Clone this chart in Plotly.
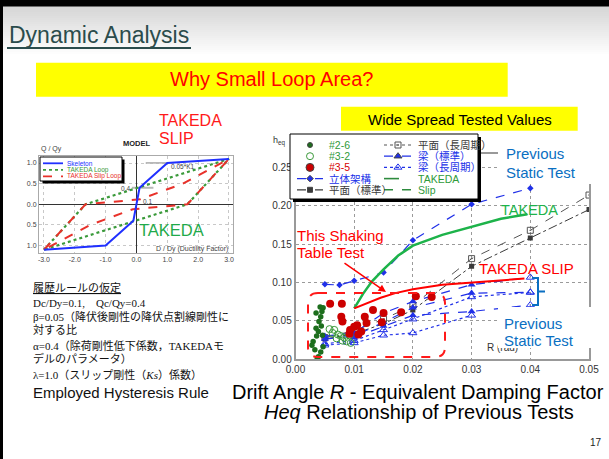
import plotly.graph_objects as go

W, H = 609, 459
SANS = "Liberation Sans, Arial, sans-serif"
JP = "Liberation Serif, Noto Sans CJK JP, serif"

# ---------------- hysteresis rule (left panel) ----------------
skeleton_d = [-3.0, -1.0, -0.1, 0.1, 1.0, 3.0]
skeleton_q = [-1.1, -1.0, -0.4, 0.4, 1.0, 1.1]
takeda_loop_d = [-3.0, -1.65, 3.0, 1.65, -3.0]
takeda_loop_q = [-1.1, 0.0, 1.1, 0.0, -1.1]
slip_loop_d = [-3.0, -1.65, 0.12, 1.5, 3.0, 1.65, -0.12, -1.5, -3.0]
slip_loop_q = [-1.1, 0.0, 0.12, 0.5, 1.1, 0.0, -0.12, -0.5, -1.1]
model_xticks = [-3, -2, -1, 0, 1, 2, 3]
model_xlabels = ["-3.0", "-2.0", "-1.0", "0.0", "1.0", "2.0", "3.0"]
model_yticks = [-1.0, -0.5, 0.0, 0.5, 1.0]
model_ylabels = ["1.0", "0.5", "0.0", "0.5", "1.0"]

# ---------------- drift angle R vs. heq (right panel) ----------------
r_2_6 = [0.0042, 0.0047, 0.0035, 0.0045, 0.0043, 0.0040, 0.0044, 0.0035, 0.0039,
         0.0036, 0.0030, 0.0028, 0.0033, 0.0043, 0.0047, 0.0039, 0.0037, 0.0046]
h_2_6 = [0.068, 0.067, 0.060, 0.062, 0.055, 0.049, 0.043, 0.040, 0.036,
         0.030, 0.023, 0.018, 0.012, 0.009, 0.016, 0.003, 0.001, 0.031]
r_3_2 = [0.0058, 0.0066, 0.0072, 0.0077, 0.0083, 0.0087, 0.0092, 0.0070, 0.0080, 0.0094, 0.0063]
h_3_2 = [0.039, 0.038, 0.032, 0.030, 0.028, 0.023, 0.031, 0.027, 0.024, 0.021, 0.034]
r_3_5 = [0.0059, 0.0079, 0.0078, 0.0080, 0.0093, 0.0100, 0.0105, 0.0107, 0.0118,
         0.0121, 0.0132, 0.0147, 0.0150, 0.0180, 0.0205, 0.0232, 0.0092, 0.0112]
h_3_5 = [0.072, 0.072, 0.055, 0.049, 0.038, 0.042, 0.044, 0.032, 0.055,
         0.047, 0.064, 0.048, 0.060, 0.061, 0.082, 0.081, 0.033, 0.036]

frame3d_r = [0.005, 0.0075, 0.010, 0.015, 0.020, 0.030, 0.040]
frame3d_h = [0.0975, 0.0965, 0.102, 0.113, 0.155, 0.202, 0.223]
plane_std_r = [0.005, 0.010, 0.015, 0.020, 0.030, 0.040, 0.050]
plane_std_h = [0.026, 0.033, 0.046, 0.064, 0.121, 0.158, 0.195]
plane_long_r = [0.005, 0.010, 0.015, 0.020, 0.030, 0.040, 0.050]
plane_long_h = [0.028, 0.037, 0.052, 0.070, 0.131, 0.168, 0.214]
beam_std_a_r = [0.005, 0.010, 0.015, 0.020, 0.030, 0.040]
beam_std_a_h = [0.030, 0.034, 0.060, 0.075, 0.097, 0.1065]
beam_std_b_r = [0.005, 0.010, 0.015, 0.020, 0.030, 0.040]
beam_std_b_h = [0.026, 0.030, 0.048, 0.067, 0.086, 0.087]
beam_std_c_r = [0.010, 0.015, 0.020, 0.030, 0.040]
beam_std_c_h = [0.028, 0.043, 0.057, 0.062, 0.0705]
beam_long_a_r = [0.005, 0.010, 0.015, 0.020, 0.030, 0.040]
beam_long_a_h = [0.020, 0.024, 0.038, 0.052, 0.081, 0.087]
beam_long_b_r = [0.005, 0.010, 0.015, 0.020, 0.030]
beam_long_b_h = [0.018, 0.021, 0.031, 0.034, 0.057]

takeda_r = [0.010, 0.0115, 0.013, 0.015, 0.0175, 0.020, 0.025, 0.030, 0.035, 0.0395]
takeda_h = [0.066, 0.085, 0.101, 0.117, 0.135, 0.148, 0.162, 0.172, 0.183, 0.189]
slip_r = [0.010, 0.012, 0.0145, 0.017, 0.020, 0.025, 0.030, 0.035, 0.039]
slip_h = [0.066, 0.072, 0.080, 0.086, 0.091, 0.097, 0.100, 0.103, 0.105]

r_ticks = [0.00, 0.01, 0.02, 0.03, 0.04, 0.05]
r_labels = ["0.00", "0.01", "0.02", "0.03", "0.04", "0.05"]
h_ticks = [0.00, 0.05, 0.10, 0.15, 0.20, 0.25]
h_labels = ["0.00", "0.05", "0.10", "0.15", "0.20", "0.25"]

# colours
BLUE = "#2030e8"
GRAY = "#3a3a3a"
DKGREEN = "#1d6e1d"
GREEN = "#2f9a3a"
RED = "#d80000"
STATIC_BLUE = "#0a6fc2"

fig = go.Figure()

# ---- left panel traces ----
fig.add_trace(go.Scatter(x=takeda_loop_d, y=takeda_loop_q, mode="lines",
                         line=dict(color="#3a9a3a", width=2.2, dash="dot"), xaxis="x", yaxis="y"))
fig.add_trace(go.Scatter(x=slip_loop_d, y=slip_loop_q, mode="lines",
                         line=dict(color="#e8312a", width=2, dash="dash"), xaxis="x", yaxis="y"))
fig.add_trace(go.Scatter(x=skeleton_d, y=skeleton_q, mode="lines",
                         line=dict(color="#2030ff", width=2), xaxis="x", yaxis="y"))


# ---- right panel traces ----
def xy2(x, y, **kw):
    fig.add_trace(go.Scatter(x=x, y=y, xaxis="x2", yaxis="y2", **kw))


xy2(plane_long_r, plane_long_h, mode="lines+markers",
    line=dict(color="#555", width=1, dash="dash"),
    marker=dict(symbol="square-open-dot", size=6, color="#555"))
xy2(plane_std_r, plane_std_h, mode="lines+markers",
    line=dict(color=GRAY, width=1, dash="dashdot"),
    marker=dict(symbol="square", size=5, color=GRAY))

for rr, hh in [(beam_long_a_r, beam_long_a_h), (beam_long_b_r, beam_long_b_h)]:
    xy2(rr, hh, mode="lines+markers", line=dict(color=BLUE, width=1.2, dash="dot"),
        marker=dict(symbol="triangle-up-open", size=7, color=BLUE))
for rr, hh in [(beam_std_a_r, beam_std_a_h), (beam_std_b_r, beam_std_b_h), (beam_std_c_r, beam_std_c_h)]:
    syms = ["triangle-up"] * (len(rr) - 1) + ["triangle-up-open"]
    xy2(rr, hh, mode="lines+markers", line=dict(color=BLUE, width=1.2, dash="dash"),
        marker=dict(symbol=syms, size=7, color=BLUE))
xy2(frame3d_r, frame3d_h, mode="lines+markers", line=dict(color=BLUE, width=1.2, dash="dash"),
    marker=dict(symbol="diamond", size=5, color=BLUE))

xy2(r_2_6, h_2_6, mode="markers", marker=dict(symbol="circle", size=5.5, color=DKGREEN))
xy2(r_3_2, h_3_2, mode="markers",
    marker=dict(symbol="circle-open", size=7, color="#3c9a3c", line=dict(width=1)))
xy2(r_3_5, h_3_5, mode="markers", marker=dict(symbol="circle", size=8, color="#cc0000"))

xy2(takeda_r, takeda_h, mode="lines", line=dict(color="#1db34a", width=2.5))
xy2(slip_r, slip_h, mode="lines", line=dict(color="#ff0000", width=2))


# ---- overlay in pixel units (x3/y3): page furniture, keys and boxes ----
def ov(x, y, **kw):
    fig.add_trace(go.Scatter(x=x, y=y, xaxis="x3", yaxis="y3", hoverinfo="skip", **kw))


def ov_box(x0, y0, x1, y1, fill, edge=None):
    ov([x0, x1, x1, x0, x0], [y0, y0, y1, y1, y0], mode="lines", fill="toself",
       fillcolor=fill, line=dict(color=edge or fill, width=1 if edge else 0))


# header band with a soft gray fade and yellow title strips
n_bands = 25
for i in range(n_bands):
    t = i / (n_bands - 1)
    c = int(214 + (255 - 214) * t)
    ov_box(0, 6 + 2 * i, W, 8.2 + 2 * i, f"rgb({c},{c},{c})")
ov_box(36, 62.7, 507.7, 96.7, "#ffff00")
ov_box(341, 106.7, 577.7, 130.7, "#ffff00")

annotations = []


def text(x, y, s, size, color="#000", xanchor="left", yanchor="middle", family=SANS, **kw):
    annotations.append(dict(x=x, y=y, xref="x3", yref="y3", text=s, showarrow=False,
                            xanchor=xanchor, yanchor=yanchor,
                            font=dict(family=family, size=size, color=color), **kw))


# key of the hysteresis panel
ov_box(42.5, 159.5, 124.5, 183.5, "#000")
ov_box(40, 157, 122, 181, "#fff", "#000")
model_key = [("Skeleton", "#2030ff", "solid"),
             ("TAKEDA Loop", "#3a9a3a", "dot"),
             ("TAKEDA Slip Loop", "#e8312a", "dash")]
for i, (name, col, dash) in enumerate(model_key):
    yk = 163.3 + 6.5 * i
    ov([43, 63], [yk, yk], mode="lines", line=dict(color=col, width=1.8, dash=dash))
    text(64.5, yk, name, 6.5, col)

# key of the R-heq panel
ov_box(293, 137, 481, 202, "#000")
ov_box(290, 134, 478, 199, "#fff", "#000")
key_left = [
    dict(name="#2-6", tc=GREEN, sym="circle", mc=DKGREEN, size=5),
    dict(name="#3-2", tc=GREEN, sym="circle-open", mc="#3c9a3c", size=7),
    dict(name="#3-5", tc=RED, sym="circle", mc="#cc0000", size=8),
    dict(name="立体架構", tc=BLUE, sym="diamond", mc=BLUE, size=5, dash="dash"),
    dict(name="平面（標準）", tc=GRAY, sym="square", mc=GRAY, size=5, dash="dashdot"),
]
key_right = [
    dict(name="平面（長周期）", tc=GRAY, sym="square-open-dot", mc="#555", size=6, dash="dot"),
    dict(name="梁（標準）", tc=BLUE, sym="triangle-up", mc=BLUE, size=7, dash="dash"),
    dict(name="梁（長周期）", tc=BLUE, sym="triangle-up-open", mc=BLUE, size=7, dash="dot"),
    dict(name="TAKEDA", tc=GREEN, mc="#2e8b3e", dash="longdash"),
    dict(name="Slip", tc=GREEN, mc="#2e8b3e", dash="dash"),
]
for col, (entries, lx0, lx1, mx, tx) in enumerate([(key_left, 297, 323, 310, 327),
                                                   (key_right, 384, 412, 398, 416)]):
    for i, e in enumerate(entries):
        yk = 145 + 11.2 * i
        if e.get("dash"):
            ov([lx0, lx1], [yk, yk], mode="lines",
               line=dict(color=e["mc"], width=1.6 if e["name"] in ("TAKEDA", "Slip") else 1.2,
                         dash=e["dash"]))
        if e.get("sym"):
            ov([mx], [yk], mode="markers",
               marker=dict(symbol=e["sym"], size=e["size"], color=e["mc"], line=dict(width=1)))
        text(tx, yk, e["name"], 10.5, e["tc"], family="Liberation Sans, Noto Sans CJK JP, sans-serif")

# axis name of R, partly hidden under the white label panels drawn after it
ov([487], [348], mode="text", text=["R (rad)"], textposition="middle right",
   textfont=dict(family=SANS, size=10, color="#333"))
ov_box(498, 307, 602, 348, "#fff")
ov_box(498, 138, 602, 184, "#fff")

# ---------------- shapes ----------------
shapes = []
# slide frame: heavy top edge and thin left edge
shapes.append(dict(type="rect", xref="paper", yref="paper", x0=0, x1=1, y0=1 - 6.5 / H, y1=1,
                   fillcolor="#000", line=dict(width=0), layer="above"))
shapes.append(dict(type="rect", xref="paper", yref="paper", x0=0, x1=3 / W, y0=0, y1=1,
                   fillcolor="#000", line=dict(width=0), layer="above"))
shapes.append(dict(type="line", xref="x3", yref="y3", x0=7, x1=191, y0=48, y1=48,
                   line=dict(color="#2b4c4c", width=2)))

# guide lines of the hysteresis model
for (x0, x1, yv) in [(0.3, 1.0, 1.0), (-0.15, 0.55, 0.4)]:
    shapes.append(dict(type="line", xref="x", yref="y", x0=x0, x1=x1, y0=yv, y1=yv,
                       line=dict(color="#b8b8b8", width=2), layer="below"))

# region of the shaking table results
shapes.append(dict(type="path", xref="x3", yref="y3", layer="above",
                   path="M 318,293 L 435,293 Q 445,293 445,303 L 445,347 Q 445,357 435,357 "
                        "L 318,357 Q 308,357 308,347 L 308,303 Q 308,293 318,293 Z",
                   line=dict(color="#ff1a1a", width=2, dash="dash")))
# bracket grouping the static test curves
shapes.append(dict(type="path", xref="x3", yref="y3", layer="above",
                   path="M 532,278 L 538,278 L 538,305 L 532,305 M 538,291.5 L 545,291.5",
                   line=dict(color=STATIC_BLUE, width=2)))

# ---------------- texts ----------------
text(7, 34.7, "Dynamic Analysis", 23, "#2b4c4c")
text(271.5, 79, "Why Small Loop Area?", 20, "#ff0000", xanchor="center")
text(459.5, 119.5, "Wide Spread Tested Values", 15, "#000", xanchor="center")

text(157, 120, "TAKEDA", 16, "#ff1a1a")
text(157, 138, "SLIP", 16, "#ff1a1a")
text(136.5, 143, "<b>MODEL</b>", 7.5, "#222", xanchor="center")
text(39, 149, "Q / Qy", 7, "#444")
text(230, 249, "D / Dy (Ductility Factor)", 7, "#444", xanchor="right")
text(169, 166, "0.05*K1", 6.5, "#444")
text(125, 188, "0.4", 6.5, "#444", xanchor="center")
text(147, 201, "0.1", 6.5, "#444", xanchor="center")
text(137, 230, "TAKEDA", 16.5, "#1faa4a")

jp_lines = [
    ("<u>履歴ルールの仮定</u>", 288.3),
    ("Dc/Dy=0.1,　Qc/Qy=0.4", 303.3),
    ("β=0.05（降伏後剛性の降伏点割線剛性に", 316.7),
    ("対する比", 330.0),
    ("α=0.4（除荷剛性低下係数，TAKEDAモ", 345.0),
    ("デルのパラメータ）", 358.3),
    ("λ=1.0（スリップ剛性（<i>Ks</i>）係数）", 374.0),
]
for s, yy in jp_lines:
    text(31, yy, s, 11, "#111", family=JP)
text(31, 392, "Employed Hysteresis Rule", 15, "#111")

text(271, 141, "h<sub>eq</sub>", 9, "#333")
text(295, 235, "This Shaking", 15, "#ff0000")
text(295, 252.5, "Table Test", 15, "#ff0000")
annotations.append(dict(x=386, y=292, xref="x3", yref="y3", ax=-43, ay=-30, text="",
                        showarrow=True, arrowhead=2, arrowsize=1, arrowwidth=1.5,
                        arrowcolor="#ff0000"))
text(499, 210, "TAKEDA", 14.5, "#1db34a")
text(477, 268, "TAKEDA SLIP", 15, "#ff0000")

text(502, 323, "Previous", 15, STATIC_BLUE)
text(502, 340, "Static Test", 15, STATIC_BLUE)
text(504, 153, "Previous", 15, STATIC_BLUE)
text(504, 172, "Static Test", 15, STATIC_BLUE)

text(418, 391.8, "Drift Angle <i>R</i> - Equivalent Damping Factor", 20, "#000", xanchor="center")
text(419, 411.6, "<i>Heq</i> Relationship of Previous Tests", 20, "#000", xanchor="center")
text(596, 442, "17", 10, "#222", xanchor="center")

# ---------------- layout ----------------
small_axis = dict(showgrid=True, gridcolor="#c8c8c8", griddash="dot", gridwidth=1,
                  showline=True, linecolor="#aaa", linewidth=1, mirror=True, ticks="",
                  zeroline=True, zerolinecolor="#333", zerolinewidth=1, automargin=False,
                  tickfont=dict(family=SANS, size=7, color="#444"), fixedrange=True)
big_axis = dict(showgrid=True, gridcolor="#9a9a9a", griddash="dot", gridwidth=1,
                showline=True, linecolor="#999", linewidth=1.5, mirror=True, ticks="",
                zeroline=False, automargin=False,
                tickfont=dict(family=SANS, size=10, color="#333"), fixedrange=True)
hidden_axis = dict(domain=[0, 1], visible=False, fixedrange=True, automargin=False)

fig.update_layout(
    width=W, height=H, margin=dict(l=0, r=0, t=0, b=0, pad=0, autoexpand=False),
    paper_bgcolor="white", plot_bgcolor="rgba(0,0,0,0)", showlegend=False,
    xaxis=dict(domain=[39 / W, 233 / W], range=[-3.16, 3.13], tickvals=model_xticks,
               ticktext=model_xlabels, anchor="y", **small_axis),
    yaxis=dict(domain=[1 - 253 / H, 1 - 156 / H], range=[-1.18, 1.17], tickvals=model_yticks,
               ticktext=model_ylabels, anchor="x", **small_axis),
    xaxis2=dict(domain=[295.5 / W, 589 / W], range=[0, 0.05], tickvals=r_ticks,
                ticktext=r_labels, anchor="y2", **big_axis),
    yaxis2=dict(domain=[1 - 359 / H, 1 - 154 / H], range=[0, 0.2676], tickvals=h_ticks,
                ticktext=h_labels, anchor="x2", **big_axis),
    xaxis3=dict(range=[0, W], anchor="y3", **hidden_axis),
    yaxis3=dict(range=[H, 0], anchor="x3", **hidden_axis),
    shapes=shapes,
    annotations=annotations,
)

fig.write_html("out.html")
